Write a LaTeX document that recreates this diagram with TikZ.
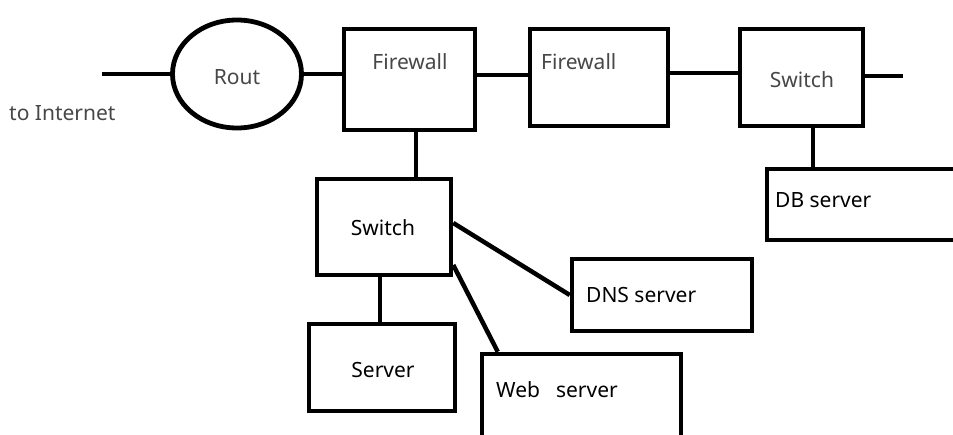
\documentclass[tikz,border=0pt]{standalone}
\usepackage{fontspec}
\setmainfont{Noto Sans}
\usetikzlibrary{shapes.geometric}
\begin{document}
\begin{tikzpicture}[x=1pt,y=-1pt,
  every node/.style={font=\fontsize{21}{25}\selectfont, inner sep=0pt},
  box/.style={draw=black, line width=4.5pt, rectangle},
  wire/.style={draw=black, line width=4.5pt},
  thin/.style={text=black!72},
  bold/.style={text=black}]
\useasboundingbox (0,0) rectangle (953,434);
\clip (0,0) rectangle (953,434);
% nodes
\node[draw=black, line width=4.8pt, ellipse, minimum width=129pt, minimum height=108pt] (rout) at (237,74) {};
\node[thin] (routt) at (237,77) {Rout};
\node[thin, anchor=west] (inet) at (9,113) {to Internet};
\node[box, minimum width=131pt, minimum height=101pt] (fw1) at (409.5,79.5) {};
\node[thin] (fw1t) at (410,62) {Firewall};
\node[box, minimum width=138pt, minimum height=97pt] (fw2) at (599,77.5) {};
\node[thin, anchor=west] (fw2t) at (541,62) {Firewall};
\node[box, minimum width=123pt, minimum height=97pt] (sw2) at (801.5,77.5) {};
\node[thin] (sw2t) at (802,80) {Switch};
\node[box, minimum width=134pt, minimum height=96pt] (sw1) at (384,227) {};
\node[bold] (sw1t) at (383,228) {Switch};
\node[box, minimum width=146pt, minimum height=87pt] (srv) at (382,367.5) {};
\node[bold] (srvt) at (383,370) {Server};
\node[box, minimum width=180pt, minimum height=72pt] (dns) at (662,295) {};
\node[bold, anchor=west] (dnst) at (586,295) {DNS server};
\node[box, minimum width=199pt, minimum height=130pt] (web) at (581.5,419) {};
\node[bold, anchor=west] (webt) at (496,390) {Web\hspace{16pt}server};
\node[box, minimum width=233pt, minimum height=71pt] (db) at (883.5,204.5) {};
\node[bold, anchor=west] (dbt) at (775,200) {DB server};
% free ends
\coordinate (inlet) at (102,74);
\coordinate (outlet) at (903,76);
% connectors
\draw[wire] (inlet) -- (rout.west);
\draw[wire] (rout.east) -- (rout.east -| fw1.west);
\draw[wire] (fw1.east |- 0,75) -- (fw2.west |- 0,75);
\draw[wire] (fw2.east |- 0,73) -- (sw2.west |- 0,73);
\draw[wire] (sw2.east |- outlet) -- (outlet);
\draw[wire] (fw1.south -| 416,0) -- (sw1.north -| 416,0);
\draw[wire] (sw2.south -| 813,0) -- (db.north -| 813,0);
\draw[wire] ([yshift=4pt]sw1.east) -- (dns.west);
\draw[wire] ([yshift=-38pt]sw1.east) -- ([xshift=18pt]web.north west);
\draw[wire] (sw1.south -| 380,0) -- (srv.north -| 380,0);
\end{tikzpicture}
\end{document}
